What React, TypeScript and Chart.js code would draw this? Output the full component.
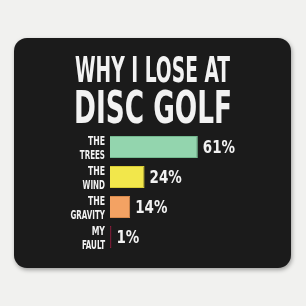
import React, { useEffect, useRef } from "react";
import { Chart, registerables } from "chart.js";

Chart.register(...registerables);

const titleLines = ["WHY I LOSE AT", "DISC GOLF"];
const categories = [["THE", "TREES"], ["THE", "WIND"], ["THE", "GRAVITY"], ["MY", "FAULT"]];
const values = [61, 24, 14, 1];
const valueLabels = ["61%", "24%", "14%", "1%"];
const barColors = ["#93d5ae", "#f2e74b", "#f3a263", "#8a1d3b"];
const barBorders = ["#74b98f", "#d8cc34", "#d88a4c", "#8a1d3b"];

const FONT = '"Liberation Sans Narrow", "DejaVu Sans Condensed", "Liberation Sans", sans-serif';

function drawScaled(ctx: CanvasRenderingContext2D, text: string, x: number, y: number, align: "left" | "right" | "center", sx: number, targetW?: number) {
  ctx.save();
  const w = ctx.measureText(text).width;
  let s = sx;
  if (targetW) s = targetW / w;
  ctx.translate(x, y);
  ctx.scale(s, 1);
  ctx.textAlign = align;
  ctx.textBaseline = "alphabetic";
  ctx.fillText(text, 0, 0);
  ctx.restore();
}

const decorPlugin = {
  id: "decor",
  beforeDraw(chart: any) {
    const ctx: CanvasRenderingContext2D = chart.ctx;
    ctx.save();
    ctx.fillStyle = "#f1f1ef";
    ctx.fillRect(0, 0, chart.width, chart.height);
    ctx.shadowColor = "rgba(0,0,0,0.35)";
    ctx.shadowBlur = 4;
    ctx.shadowOffsetX = 1;
    ctx.shadowOffsetY = 2;
    ctx.fillStyle = "#1b1b1b";
    ctx.beginPath();
    (ctx as any).roundRect(14, 38, 277, 230, 13);
    ctx.fill();
    ctx.restore();
  },
  afterDatasetsDraw(chart: any) {
    const ctx: CanvasRenderingContext2D = chart.ctx;
    const xs = chart.scales.x;
    const ys = chart.scales.y;
    ctx.save();
    ctx.fillStyle = "#f2f2f2";
    ctx.font = `bold 35px ${FONT}`;
    drawScaled(ctx, titleLines[0], 152.5, 82, "center", 1, 155);
    ctx.font = `bold 44px ${FONT}`;
    drawScaled(ctx, titleLines[1], 153, 123, "center", 1, 158);

    const x0 = xs.getPixelForValue(0);
    categories.forEach((lines, i) => {
      const cy = ys.getPixelForValue(i);
      ctx.font = `bold 12px ${FONT}`;
      drawScaled(ctx, lines[0], x0 - 5, cy - 2, "right", 0.72);
      drawScaled(ctx, lines[1], x0 - 5, cy + 12, "right", 0.66);
      const xe = xs.getPixelForValue(values[i]);
      ctx.font = `bold 17px ${FONT}`;
      drawScaled(ctx, valueLabels[i], xe + 5, cy + 6, "left", 0.88);
    });
    ctx.restore();
  },
};

export default function App() {
  const ref = useRef<HTMLCanvasElement>(null);
  useEffect(() => {
    document.body.style.margin = "0";
    const chart = new Chart(ref.current!, {
      type: "bar",
      data: {
        labels: categories.map((c) => c.join(" ")),
        datasets: [
          {
            data: values,
            backgroundColor: barColors,
            borderColor: barBorders,
            borderWidth: 1,
            barPercentage: 0.74,
            categoryPercentage: 1,
          },
        ],
      },
      options: {
        indexAxis: "y",
        responsive: false,
        animation: false,
        layout: { padding: { left: 110, right: 52, top: 132, bottom: 54 } },
        scales: {
          x: { display: false, min: 0, max: 100 },
          y: { display: false },
        },
        plugins: { legend: { display: false }, tooltip: { enabled: false }, title: { display: false } },
      },
      plugins: [decorPlugin],
    });
    return () => chart.destroy();
  }, []);
  return (
    <div style={{ width: 306, height: 306 }}>
      <canvas ref={ref} width={306} height={306} />
    </div>
  );
}
